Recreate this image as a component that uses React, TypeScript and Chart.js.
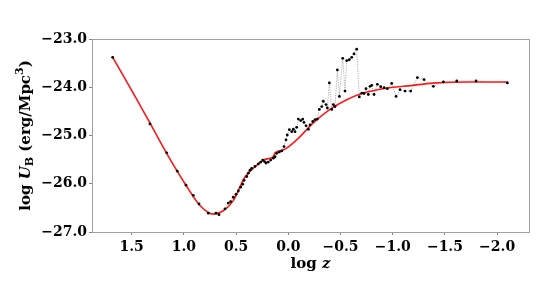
import React, { useEffect, useRef } from 'react';
import { Chart, registerables } from 'chart.js';

Chart.register(...registerables);

// Observed data (log z, log U_B)
const logZ = [
  1.682, 1.325, 1.165, 1.063, 0.98, 0.91, 0.855, 0.766, 0.693, 0.664,
  0.606, 0.575, 0.552, 0.527, 0.501, 0.479, 0.456, 0.437, 0.424, 0.398,
  0.383, 0.367, 0.351, 0.319, 0.287, 0.264, 0.245, 0.228, 0.214, 0.192,
  0.169, 0.144, 0.127, 0.111, 0.086, 0.063, 0.041, 0.022, 0.01, -0.01,
  -0.033, -0.048, -0.064, -0.08, -0.096, -0.119, -0.138, -0.15, -0.17, -0.192,
  -0.208, -0.234, -0.256, -0.278, -0.297, -0.32, -0.335, -0.361, -0.374, -0.393,
  -0.416, -0.431, -0.447, -0.47, -0.489, -0.521, -0.543, -0.559, -0.584, -0.607,
  -0.629, -0.655, -0.68, -0.703, -0.725, -0.744, -0.766, -0.783, -0.799, -0.821,
  -0.853, -0.885, -0.917, -0.948, -0.99, -1.032, -1.07, -1.118, -1.172, -1.236,
  -1.3, -1.389, -1.485, -1.613, -1.798, -2.098,
];
const logUB = [
  -23.38, -24.76, -25.36, -25.74, -26.03, -26.24, -26.42, -26.61, -26.61, -26.64,
  -26.52, -26.4, -26.37, -26.28, -26.22, -26.15, -26.07, -26.01, -25.93, -25.85,
  -25.78, -25.72, -25.68, -25.64, -25.59, -25.55, -25.51, -25.54, -25.57, -25.55,
  -25.51, -25.47, -25.44, -25.37, -25.34, -25.32, -25.23, -25.09, -24.99, -24.88,
  -24.92, -24.87, -24.92, -24.83, -24.66, -24.69, -24.66, -24.73, -24.8, -24.87,
  -24.78, -24.71, -24.67, -24.66, -24.46, -24.4, -24.29, -24.36, -24.43, -23.91,
  -24.46, -24.36, -24.4, -23.64, -24.19, -23.4, -24.08, -23.45, -23.43, -23.38,
  -23.31, -23.21, -24.2, -24.12, -24.13, -24.03, -24.15, -23.98, -23.96, -24.15,
  -23.94, -23.99, -24.01, -24.03, -23.92, -24.19, -24.05, -24.08, -24.08, -23.8,
  -23.84, -23.98, -23.89, -23.87, -23.87, -23.91,
];

// Smooth fit curve (red)
const fitLogZ = [
  1.682, 1.485, 1.325, 1.165, 0.98, 0.846, 0.718, 0.623, 0.527, 0.415,
  0.303, 0.239, 0.175, 0.144, 0.127, 0.048, -0.08, -0.239, -0.399, -0.559,
  -0.718, -0.967, -1.102, -1.421, -1.74, -2.098,
];
const fitLogUB = [
  -23.38, -24.12, -24.74, -25.37, -26.03, -26.45, -26.63, -26.56, -26.35, -25.86,
  -25.62, -25.51, -25.47, -25.44, -25.36, -25.3, -25.09, -24.74, -24.46, -24.26,
  -24.12, -24.01, -23.98, -23.91, -23.89, -23.89,
];

const xTicks = [1.5, 1.0, 0.5, 0.0, -0.5, -1.0, -1.5, -2.0];
const yTicks = [-27, -26, -25, -24, -23];

const FAM = '"DejaVu Serif", "Liberation Serif", serif';

function fmt(v: number): string {
  const s = Math.abs(v).toFixed(1);
  return v < -1e-9 ? '\u2212' + s : s;
}

const framePlugin = {
  id: 'frame',
  beforeDatasetsDraw(chart: any) {
    const { ctx, chartArea } = chart;
    ctx.save();
    ctx.strokeStyle = '#a0a0a0';
    ctx.lineWidth = 1;
    ctx.strokeRect(
      Math.round(chartArea.left) + 0.5,
      Math.round(chartArea.top) + 0.5,
      Math.round(chartArea.right - chartArea.left),
      Math.round(chartArea.bottom - chartArea.top)
    );
    ctx.restore();
  },
};

type Part = { t: string; f: string; dy: number };

function drawParts(ctx: CanvasRenderingContext2D, parts: Part[], cx: number, cy: number) {
  let total = 0;
  for (const p of parts) {
    ctx.font = p.f;
    total += ctx.measureText(p.t).width;
  }
  let x = cx - total / 2;
  ctx.textBaseline = 'alphabetic';
  ctx.textAlign = 'left';
  for (const p of parts) {
    ctx.font = p.f;
    ctx.fillText(p.t, x, cy + p.dy);
    x += ctx.measureText(p.t).width;
  }
}

const titlePlugin = {
  id: 'titles',
  afterDraw(chart: any) {
    const { ctx, chartArea } = chart;
    const { top, bottom, left, right } = chartArea;
    ctx.save();
    ctx.fillStyle = '#000';
    const s = 15;
    const big = `bold ${s}px ${FAM}`;
    const bigI = `italic bold ${s}px ${FAM}`;
    const small = `bold ${Math.round(s * 0.7)}px ${FAM}`;
    // y title
    ctx.save();
    ctx.translate(30, (top + bottom) / 2);
    ctx.rotate(-Math.PI / 2);
    drawParts(
      ctx,
      [
        { t: 'log ', f: big, dy: 0 },
        { t: 'U', f: bigI, dy: 0 },
        { t: 'B', f: small, dy: 3 },
        { t: ' (erg/Mpc', f: big, dy: 0 },
        { t: '3', f: small, dy: -7 },
        { t: ')', f: big, dy: 0 },
      ],
      0,
      0
    );
    ctx.restore();
    // x title
    drawParts(
      ctx,
      [
        { t: 'log ', f: big, dy: 0 },
        { t: 'z', f: bigI, dy: 0 },
      ],
      (left + right) / 2,
      268
    );
    ctx.restore();
  },
};

export default function App() {
  const ref = useRef<HTMLCanvasElement | null>(null);

  useEffect(() => {
    document.body.style.margin = '0';
    const canvas = ref.current;
    if (!canvas) return;
    const dots = logZ.map((x, i) => ({ x, y: logUB[i] }));
    const fit = fitLogZ.map((x, i) => ({ x, y: fitLogUB[i] }));
    const chart = new Chart(canvas, {
      type: 'line',
      data: {
        datasets: [
          {
            data: dots,
            showLine: false,
            pointRadius: 1.4,
            pointBackgroundColor: '#000',
            pointBorderWidth: 0,
            borderColor: '#000',
          },
          {
            data: fit,
            borderColor: '#ff1a1a',
            borderWidth: 1.6,
            pointRadius: 0,
            tension: 0.4,
            cubicInterpolationMode: 'monotone',
            fill: false,
          },
          {
            data: dots,
            borderColor: '#9a9a9a',
            borderWidth: 0.8,
            borderDash: [1.2, 1.2],
            pointRadius: 0,
            tension: 0,
            fill: false,
          },
        ],
      },
      options: {
        animation: false,
        responsive: false,
        maintainAspectRatio: false,
        layout: { padding: { left: 0, top: 39, right: 18, bottom: 0 } },
        plugins: {
          legend: { display: false },
          tooltip: { enabled: false },
          title: { display: false },
        },
        scales: {
          x: {
            type: 'linear',
            reverse: true,
            min: -2.305,
            max: 1.88,
            afterBuildTicks: (s: any) => {
              s.ticks = xTicks.map((v) => ({ value: v }));
            },
            afterFit: (s: any) => {
              s.height = 63;
            },
            ticks: {
              autoSkip: false,
              maxRotation: 0,
              padding: 4,
              color: '#000',
              font: { family: FAM, size: 14, weight: 'bold' },
              callback: (v: any) => fmt(Number(v)),
            },
            grid: {
              drawOnChartArea: false,
              drawTicks: true,
              tickLength: 3,
              color: '#888',
            },
            border: { display: false },
          },
          y: {
            type: 'linear',
            min: -27,
            max: -23,
            afterBuildTicks: (s: any) => {
              s.ticks = yTicks.map((v) => ({ value: v }));
            },
            afterFit: (s: any) => {
              s.width = 92;
            },
            ticks: {
              autoSkip: false,
              padding: 2,
              color: '#000',
              font: { family: FAM, size: 14, weight: 'bold' },
              callback: (v: any) => fmt(Number(v)),
            },
            grid: {
              drawOnChartArea: false,
              drawTicks: true,
              tickLength: 3,
              color: '#888',
            },
            border: { display: false },
          },
        },
      },
      plugins: [framePlugin, titlePlugin],
    } as any);
    return () => chart.destroy();
  }, []);

  return (
    <div style={{ width: 547, height: 295, background: '#fff' }}>
      <canvas ref={ref} width={547} height={295} style={{ display: 'block' }} />
    </div>
  );
}
